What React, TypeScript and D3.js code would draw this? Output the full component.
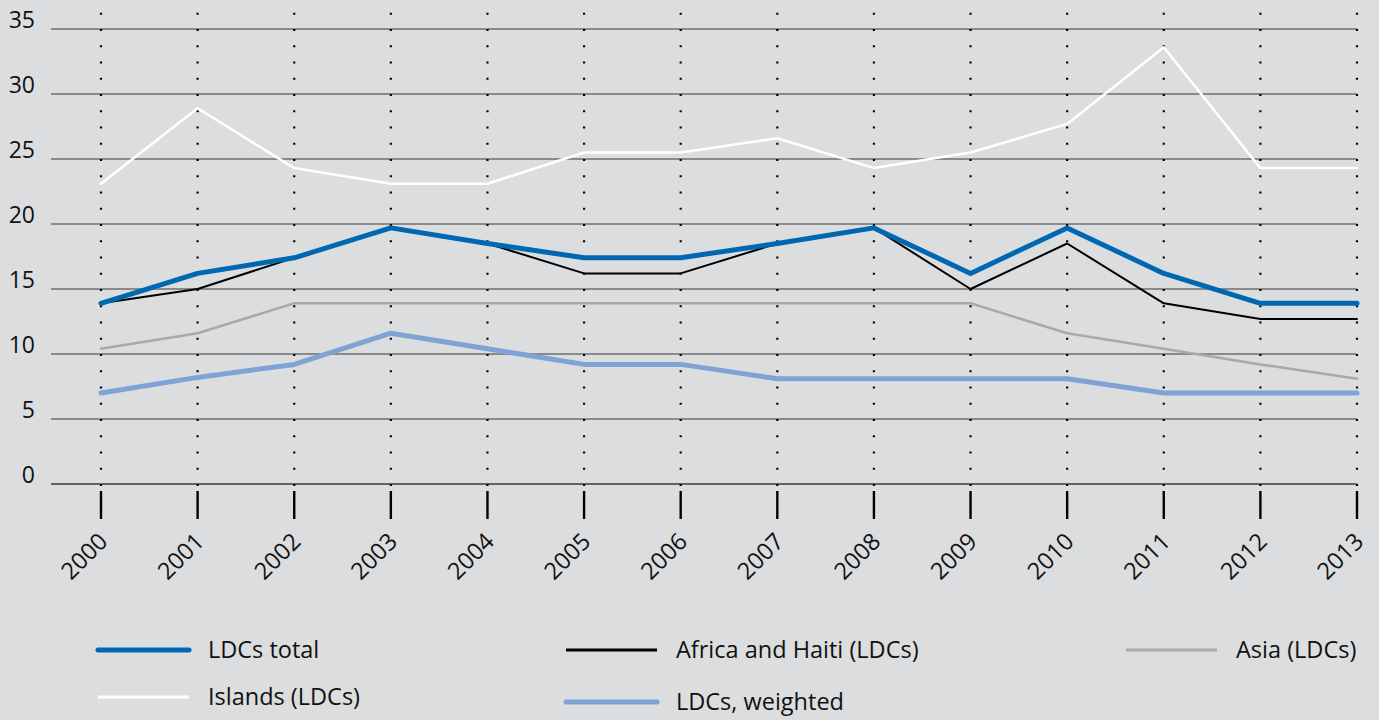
// @ts-nocheck
import React, { useRef, useEffect } from "react";
import * as d3 from "d3";

const years = ["2000", "2001", "2002", "2003", "2004", "2005", "2006", "2007", "2008", "2009", "2010", "2011", "2012", "2013"];
const yTicks = [0, 5, 10, 15, 20, 25, 30, 35];

const islands = [23.1, 28.9, 24.3, 23.1, 23.1, 25.5, 25.5, 26.6, 24.3, 25.5, 27.7, 33.6, 24.3, 24.3];
const asia = [10.4, 11.6, 13.9, 13.9, 13.9, 13.9, 13.9, 13.9, 13.9, 13.9, 11.6, 10.4, 9.2, 8.1];
const africa = [13.9, 15.0, 17.4, 19.7, 18.5, 16.2, 16.2, 18.5, 19.7, 15.0, 18.5, 13.9, 12.7, 12.7];
const weighted = [7.0, 8.2, 9.2, 11.6, 10.4, 9.2, 9.2, 8.1, 8.1, 8.1, 8.1, 7.0, 7.0, 7.0];
const total = [13.9, 16.2, 17.4, 19.7, 18.5, 17.4, 17.4, 18.5, 19.7, 16.2, 19.7, 16.2, 13.9, 13.9];

// draw order: back to front
const series = [
  { name: "Islands (LDCs)", values: islands, color: "#ffffff", width: 2.5 },
  { name: "Asia (LDCs)", values: asia, color: "#a8a9ab", width: 2.5 },
  { name: "LDCs, weighted", values: weighted, color: "#7fa3d5", width: 5 },
  { name: "Africa and Haiti (LDCs)", values: africa, color: "#000000", width: 2 },
  { name: "LDCs total", values: total, color: "#0068b2", width: 5 },
];

// legend layout: [series name, x of line start, y]
const legendItems = [
  ["LDCs total", 98, 650],
  ["Africa and Haiti (LDCs)", 566, 650],
  ["Asia (LDCs)", 1126, 650],
  ["Islands (LDCs)", 98, 697],
  ["LDCs, weighted", 566, 702],
];

const App = () => {
  const svgRef = useRef(null);
  const width = 1379,
    height = 720;

  useEffect(() => {
    document.body.style.margin = "0";
    const svg = d3.select(svgRef.current);
    svg.selectAll("*").remove();

    const font = "'Open Sans', 'Noto Sans', sans-serif";

    const x = d3.scalePoint().domain(years).range([101, 1357]);
    const y = d3.scaleLinear().domain([0, 35]).range([484, 29]);

    svg.append("rect").attr("width", width).attr("height", height).attr("fill", "#dcdddf");

    // horizontal gridlines
    svg
      .append("g")
      .selectAll("line")
      .data(yTicks)
      .join("line")
      .attr("x1", 51)
      .attr("x2", 1357)
      .attr("y1", (d) => y(d))
      .attr("y2", (d) => y(d))
      .attr("stroke", (d) => (d === 0 ? "#3a3a3a" : "#6d6e70"))
      .attr("stroke-width", 1.6);

    // y labels
    svg
      .append("g")
      .selectAll("text")
      .data(yTicks)
      .join("text")
      .attr("x", 35)
      .attr("y", (d) => y(d) - 1)
      .attr("text-anchor", "end")
      .attr("font-family", font)
      .attr("font-size", 23)
      .attr("fill", "#111")
      .text((d) => d);

    // dotted verticals
    svg
      .append("g")
      .selectAll("line")
      .data(years)
      .join("line")
      .attr("x1", (d) => x(d))
      .attr("x2", (d) => x(d))
      .attr("y1", 486)
      .attr("y2", 12)
      .attr("stroke", "#000")
      .attr("stroke-width", 2.2)
      .attr("stroke-dasharray", "2 14.25");

    // ticks below axis
    svg
      .append("g")
      .selectAll("line")
      .data(years)
      .join("line")
      .attr("x1", (d) => x(d))
      .attr("x2", (d) => x(d))
      .attr("y1", 491)
      .attr("y2", 519)
      .attr("stroke", "#000")
      .attr("stroke-width", 2.4);

    // x labels rotated
    svg
      .append("g")
      .selectAll("text")
      .data(years)
      .join("text")
      .attr("transform", (d) => `translate(${x(d) + 8},${543}) rotate(-45)`)
      .attr("text-anchor", "end")
      .attr("font-family", font)
      .attr("font-size", 23.5)
      .attr("fill", "#111")
      .text((d) => d);

    const line = d3
      .line()
      .x((d, i) => x(years[i]))
      .y((d) => y(d));

    svg
      .append("g")
      .selectAll("path")
      .data(series)
      .join("path")
      .attr("d", (s) => line(s.values))
      .attr("fill", "none")
      .attr("stroke", (s) => s.color)
      .attr("stroke-width", (s) => s.width)
      .attr("stroke-linejoin", "round")
      .attr("stroke-linecap", "round");

    // legend
    const byName = new Map(series.map((s) => [s.name, s]));
    const lg = svg
      .append("g")
      .selectAll("g")
      .data(legendItems)
      .join("g")
      .attr("transform", (d) => `translate(${d[1]},${d[2]})`);

    lg.append("line")
      .attr("x1", 0)
      .attr("x2", 91)
      .attr("stroke", (d) => byName.get(d[0]).color)
      .attr("stroke-width", (d) => (byName.get(d[0]).width > 3 ? 5 : 3))
      .attr("stroke-linecap", (d) => (byName.get(d[0]).width > 3 ? "round" : "butt"));

    lg.append("text")
      .attr("x", 110)
      .attr("y", 0)
      .attr("dy", "0.35em")
      .attr("font-family", font)
      .attr("font-size", 23.5)
      .attr("fill", "#111")
      .text((d) => d[0]);
  }, []);

  return <svg ref={svgRef} width={width} height={height} style={{ display: "block" }}></svg>;
};

export default App;
